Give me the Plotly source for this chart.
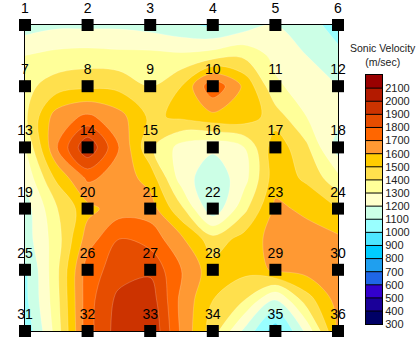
import plotly.graph_objects as go

# ---------------- data ----------------
grid_x = [0, 0.5, 1, 1.5, 2, 2.5, 3, 3.5, 4, 4.5, 5]
grid_y = [0, 0.5, 1, 1.5, 2, 2.5, 3, 3.5, 4, 4.5, 5]

v_row00 = [1150, 1180, 1180, 1180, 1160, 1120, 1080, 1150, 1200, 1150, 1050]
v_row05 = [1300, 1330, 1340, 1330, 1330, 1320, 1350, 1380, 1270, 1200, 1130]
v_row10 = [1370, 1450, 1480, 1470, 1400, 1500, 1780, 1580, 1320, 1250, 1200]
v_row15 = [1380, 1650, 1720, 1640, 1480, 1520, 1570, 1560, 1450, 1300, 1230]
v_row20 = [1300, 1690, 1990, 1700, 1420, 1260, 1220, 1300, 1560, 1420, 1150]
v_row25 = [1220, 1520, 1720, 1660, 1560, 1250, 1130, 1260, 1560, 1480, 1330]
v_row30 = [1150, 1390, 1570, 1650, 1650, 1420, 1120, 1370, 1620, 1580, 1500]
v_row35 = [1150, 1350, 1650, 1800, 1760, 1620, 1440, 1540, 1640, 1640, 1620]
v_row40 = [1080, 1370, 1750, 1850, 1880, 1700, 1540, 1530, 1620, 1640, 1650]
v_row45 = [1070, 1360, 1760, 1930, 1960, 1670, 1500, 1400, 1180, 1450, 1640]
v_row50 = [1020, 1340, 1760, 1950, 2000, 1680, 1450, 1180, 940, 1230, 1620]
velocity = [v_row00, v_row05, v_row10, v_row15, v_row20, v_row25,
            v_row30, v_row35, v_row40, v_row45, v_row50]

station_cols = [0, 1, 2, 3, 4, 5]
station_rows = [0, 1, 2, 3, 4, 5]

band_values = list(range(300, 2200, 100))  # lower edge of each band
band_colors = ["#000066", "#1A0099", "#3300CC", "#1F66E6", "#1F9FEF",
               "#00CCFF", "#4DE6FF", "#99FFFF", "#CCFFE6", "#FFFFCC",
               "#FFFF99", "#FFE04D", "#FFCC00", "#FF9933", "#FF6600",
               "#E64D00", "#CC3300", "#B31A00", "#990000"]
tick_labels = [str(v) for v in band_values]

# ---------------- geometry ----------------
W, H = 420, 345
ml, mr, mt, mb = 25, 37, 25, 8
pw, ph = W - ml - mr, H - mt - mb
map_right_px = 338
cb_left_px, cb_right_px = 366, 382
cb_top_px, cb_bot_px = 76, 330

NARROW = "Liberation Sans Narrow, Arial Narrow, Liberation Sans, sans-serif"
REG = "Liberation Sans, Arial, sans-serif"

level_step = 100
n = len(band_colors)
colorscale = []
for k, c in enumerate(band_colors):
    lo = max(0.0, (k - 0.5) / (n - 1))
    hi = min(1.0, (k + 0.5) / (n - 1))
    colorscale.append([lo, c])
    colorscale.append([hi, c])

fig = go.Figure()
fig.add_trace(go.Contour(
    x=grid_x, y=grid_y, z=velocity,
    colorscale=colorscale, showscale=False,
    contours=dict(start=band_values[1], end=band_values[-1], size=level_step,
                  coloring="fill", showlines=True),
    line=dict(color="rgba(255,255,255,0.4)", width=0.5, smoothing=1.0),
    hoverinfo="skip",
))

sx, sy, st = [], [], []
for r in station_rows:
    for c in station_cols:
        sx.append(c)
        sy.append(r)
        st.append(str(r * len(station_cols) + c + 1))

fig.add_trace(go.Scatter(
    x=sx, y=sy, mode="markers+text", text=st,
    textposition="top center",
    textfont=dict(size=14, color="black", family=NARROW),
    marker=dict(symbol="square", size=12, color="black"),
    cliponaxis=False, showlegend=False, hoverinfo="skip",
))

# colour key drawn as a heatmap on its own axes
band_mid = [v + level_step / 2 for v in band_values]
fig.add_trace(go.Heatmap(
    x=[0], y=band_mid, z=[[k] for k in range(n)],
    zmin=0, zmax=n - 1, colorscale=colorscale, showscale=False,
    xaxis="x2", yaxis="y2", hoverinfo="skip",
))

shapes = []
for v in band_values[1:]:
    shapes.append(dict(type="line", xref="x2 domain", yref="y2",
                       x0=0, x1=1, y0=v, y1=v,
                       line=dict(color="black", width=1)))

fig.update_layout(
    width=W, height=H,
    margin=dict(l=ml, r=mr, t=mt, b=mb),
    paper_bgcolor="white", plot_bgcolor="white",
    showlegend=False,
    shapes=shapes,
    xaxis=dict(domain=[0, (map_right_px - ml) / pw], range=[0, 5],
               showgrid=False, zeroline=False, showticklabels=False,
               ticks="", showline=True, linecolor="black", linewidth=1,
               mirror=True),
    yaxis=dict(range=[5, 0], showgrid=False, zeroline=False,
               showticklabels=False, ticks="", showline=True,
               linecolor="black", linewidth=1, mirror=True),
    xaxis2=dict(domain=[(cb_left_px - ml) / pw, (cb_right_px - ml) / pw],
                range=[-0.5, 0.5], anchor="y2", showgrid=False,
                zeroline=False, showticklabels=False, ticks="",
                showline=True, linecolor="black", linewidth=1, mirror=True),
    yaxis2=dict(domain=[(H - mb - cb_bot_px) / ph, (H - mb - cb_top_px) / ph],
                range=[band_values[0], band_values[-1] + level_step],
                anchor="x2", side="right", tickmode="array",
                tickvals=band_values, ticktext=tick_labels, ticks="",
                showgrid=False, zeroline=False, showline=True,
                linecolor="black", linewidth=1, mirror=True,
                tickfont=dict(size=11, color="#222222", family=NARROW)),
    annotations=[dict(
        text="Sonic Velocity<br>(m/sec)", xref="paper", yref="paper",
        x=(383 - ml) / pw, y=(H - mb - 56) / ph, xanchor="center",
        yanchor="middle", showarrow=False, align="center",
        font=dict(size=10.5, color="#222222", family=REG),
    )],
)

fig.write_html("out.html")
